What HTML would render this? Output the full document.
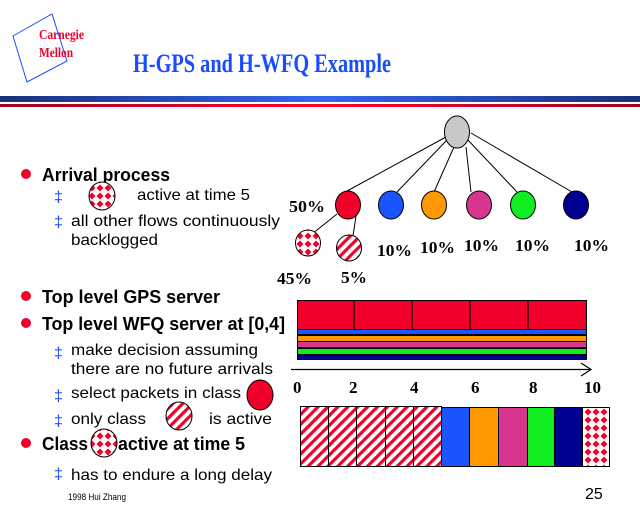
<!DOCTYPE html>
<html><head><meta charset="utf-8"><style>body{margin:0;background:#fff}svg{display:block}</style></head><body>
<svg width="640" height="512" viewBox="0 0 640 512" xmlns="http://www.w3.org/2000/svg">
<defs>
<pattern id="chk" width="8" height="8" patternUnits="userSpaceOnUse">
<rect width="8" height="8" fill="#fff"/><path d="M4 0.5L7.5 4 4 7.5 0.5 4Z" fill="#f0002a"/></pattern>
<pattern id="str" width="7" height="7" patternUnits="userSpaceOnUse" patternTransform="rotate(45)">
<rect width="7" height="7" fill="#fff"/><rect width="3.2" height="7" fill="#f0002a"/></pattern>
<linearGradient id="bg" x1="0" x2="1"><stop offset="0" stop-color="#1a2f7a"/><stop offset="0.5" stop-color="#3366f0"/><stop offset="1" stop-color="#1a2f7a"/></linearGradient>
<linearGradient id="rg" x1="0" x2="1"><stop offset="0" stop-color="#a00020"/><stop offset="0.5" stop-color="#ff0030"/><stop offset="1" stop-color="#a00020"/></linearGradient>
</defs>
<polygon points="13,36 52,14 67,61 27,82" fill="none" stroke="#1a4cff" stroke-width="1"/>
<g font-family="Liberation Serif,serif" font-weight="bold" fill="#f0002a" font-size="14">
<text x="39" y="39" textLength="45" lengthAdjust="spacingAndGlyphs">Carnegie</text>
<text x="39" y="57" textLength="34" lengthAdjust="spacingAndGlyphs">Mellon</text></g>
<text x="133" y="72" font-family="Liberation Serif,serif" font-weight="bold" font-size="26" fill="#1a4cff" textLength="258" lengthAdjust="spacingAndGlyphs">H-GPS and H-WFQ Example</text>
<rect x="0" y="96" width="640" height="6" fill="url(#bg)"/>
<rect x="0" y="104" width="640" height="3" fill="url(#rg)"/>
<g stroke="#000" stroke-width="1">
<line x1="446" y1="137" x2="347" y2="191"/><line x1="447" y1="140" x2="397" y2="192"/>
<line x1="454" y1="147" x2="434" y2="192"/><line x1="466" y1="147" x2="471" y2="192"/>
<line x1="467" y1="139" x2="517" y2="192"/><line x1="471" y1="133" x2="572" y2="192"/>
<line x1="337" y1="214" x2="312" y2="234"/><line x1="356" y1="216" x2="353" y2="236"/>
<ellipse cx="457" cy="132" rx="12.5" ry="16" fill="#c8c8c8"/>
<ellipse cx="348" cy="205" rx="12.5" ry="14" fill="#f0002a"/>
<ellipse cx="391" cy="205" rx="12.5" ry="14" fill="#1a55ff"/>
<ellipse cx="434" cy="205" rx="12.5" ry="14" fill="#ff9900"/>
<ellipse cx="479" cy="205" rx="12.5" ry="14" fill="#d83590"/>
<ellipse cx="523" cy="205" rx="12.5" ry="14" fill="#10ee22"/>
<ellipse cx="576" cy="205" rx="12.5" ry="14" fill="#000090"/>
<ellipse cx="308" cy="243" rx="12.5" ry="13" fill="url(#chk)"/>
<ellipse cx="349" cy="248" rx="12.5" ry="13" fill="url(#str)"/>
</g>
<g font-family="Liberation Serif,serif" font-weight="bold" font-size="17" fill="#000">
<text x="289" y="212" textLength="36" lengthAdjust="spacingAndGlyphs">50%</text>
<text x="377" y="256" textLength="35" lengthAdjust="spacingAndGlyphs">10%</text><text x="420" y="253" textLength="35" lengthAdjust="spacingAndGlyphs">10%</text><text x="464" y="251" textLength="35" lengthAdjust="spacingAndGlyphs">10%</text>
<text x="515" y="251" textLength="35" lengthAdjust="spacingAndGlyphs">10%</text><text x="574" y="251" textLength="35" lengthAdjust="spacingAndGlyphs">10%</text>
<text x="277" y="284" textLength="35" lengthAdjust="spacingAndGlyphs">45%</text><text x="341" y="283" textLength="26" lengthAdjust="spacingAndGlyphs">5%</text>
</g>
<rect x="297" y="300" width="290" height="60" fill="#000"/>
<rect x="298" y="301" width="288" height="28" fill="#f0002a"/>
<g stroke="#000" stroke-width="1.2"><line x1="354" y1="300" x2="354" y2="329"/><line x1="412" y1="300" x2="412" y2="329"/><line x1="470" y1="300" x2="470" y2="329"/><line x1="528" y1="300" x2="528" y2="329"/></g>
<rect x="298" y="330" width="288" height="4" fill="#1a55ff"/>
<rect x="298" y="336" width="288" height="5" fill="#ff9900"/>
<rect x="298" y="342" width="288" height="5" fill="#d83590"/>
<rect x="298" y="349" width="288" height="5" fill="#10ee22"/>
<rect x="298" y="355" width="288" height="4" fill="#000090"/>
<line x1="291" y1="369.5" x2="590" y2="369.5" stroke="#000" stroke-width="1.2"/>
<polyline points="581,363 591,369.5 581,376" fill="none" stroke="#000" stroke-width="1.2"/>
<g font-family="Liberation Serif,serif" font-weight="bold" font-size="17" fill="#000">
<text x="293" y="393">0</text><text x="349" y="393">2</text><text x="410" y="393">4</text>
<text x="471" y="393">6</text><text x="529" y="393">8</text><text x="584" y="393">10</text></g>
<g stroke="#000" stroke-width="1">
<rect x="300.5" y="406.5" width="141" height="60" fill="url(#str)"/>
<line x1="328.5" y1="406" x2="328.5" y2="467"/><line x1="356.5" y1="406" x2="356.5" y2="467"/>
<line x1="385.5" y1="406" x2="385.5" y2="467"/><line x1="413.5" y1="406" x2="413.5" y2="467"/>
<rect x="441.5" y="407.5" width="28" height="59" fill="#1a55ff"/>
<rect x="469.5" y="407.5" width="29" height="59" fill="#ff9900"/>
<rect x="498.5" y="407.5" width="29" height="59" fill="#d83590"/>
<rect x="527.5" y="407.5" width="27" height="59" fill="#10ee22"/>
<rect x="554.5" y="407.5" width="28" height="59" fill="#000090"/>
<rect x="582.5" y="407.5" width="27" height="59" fill="url(#chk)"/>
</g>
<g fill="#f0002a"><circle cx="26" cy="174" r="5"/><circle cx="26" cy="296" r="5"/><circle cx="26" cy="323" r="5"/><circle cx="26" cy="443" r="5"/></g>
<g font-family="Liberation Sans,sans-serif" fill="#1a4cff" font-size="16">
<text x="54" y="202">‡</text><text x="54" y="227">‡</text><text x="54" y="358">‡</text>
<text x="54" y="401">‡</text><text x="54" y="426">‡</text><text x="54" y="479">‡</text></g>
<g font-family="Liberation Sans,sans-serif" font-weight="bold" font-size="18" fill="#000">
<text x="42" y="181" textLength="128" lengthAdjust="spacingAndGlyphs">Arrival process</text>
<text x="42" y="303" textLength="178" lengthAdjust="spacingAndGlyphs">Top level GPS server</text>
<text x="42" y="330" textLength="243" lengthAdjust="spacingAndGlyphs">Top level WFQ server at [0,4]</text>
<text x="42" y="450" textLength="46" lengthAdjust="spacingAndGlyphs">Class</text>
<text x="118" y="450" textLength="127" lengthAdjust="spacingAndGlyphs">active at time 5</text>
</g>
<g font-family="Liberation Sans,sans-serif" font-size="16" fill="#000">
<text x="137" y="200" textLength="113" lengthAdjust="spacingAndGlyphs">active at time 5</text>
<text x="71" y="226" textLength="209" lengthAdjust="spacingAndGlyphs">all other flows continuously</text>
<text x="71" y="245" textLength="87" lengthAdjust="spacingAndGlyphs">backlogged</text>
<text x="71" y="355" textLength="187" lengthAdjust="spacingAndGlyphs">make decision assuming</text>
<text x="71" y="374" textLength="202" lengthAdjust="spacingAndGlyphs">there are no future arrivals</text>
<text x="71" y="398" textLength="170" lengthAdjust="spacingAndGlyphs">select packets in class</text>
<text x="71" y="424" textLength="75" lengthAdjust="spacingAndGlyphs">only class</text>
<text x="209" y="424" textLength="63" lengthAdjust="spacingAndGlyphs">is active</text>
<text x="71" y="480" textLength="201" lengthAdjust="spacingAndGlyphs">has to endure a long delay</text>
</g>
<g stroke="#000" stroke-width="1">
<ellipse cx="102" cy="196" rx="13" ry="14" fill="url(#chk)"/>
<ellipse cx="260" cy="395" rx="13" ry="15" fill="#f0002a"/>
<ellipse cx="179" cy="416" rx="13" ry="14" fill="url(#str)"/>
<ellipse cx="104" cy="443" rx="13" ry="14" fill="url(#chk)"/>
</g>
<text x="68" y="500" font-family="Liberation Sans,sans-serif" font-size="9" fill="#000" textLength="58" lengthAdjust="spacingAndGlyphs">1998  Hui Zhang</text>
<text x="585" y="499" font-family="Liberation Sans,sans-serif" font-size="16" fill="#000">25</text>
</svg>
</body></html>
